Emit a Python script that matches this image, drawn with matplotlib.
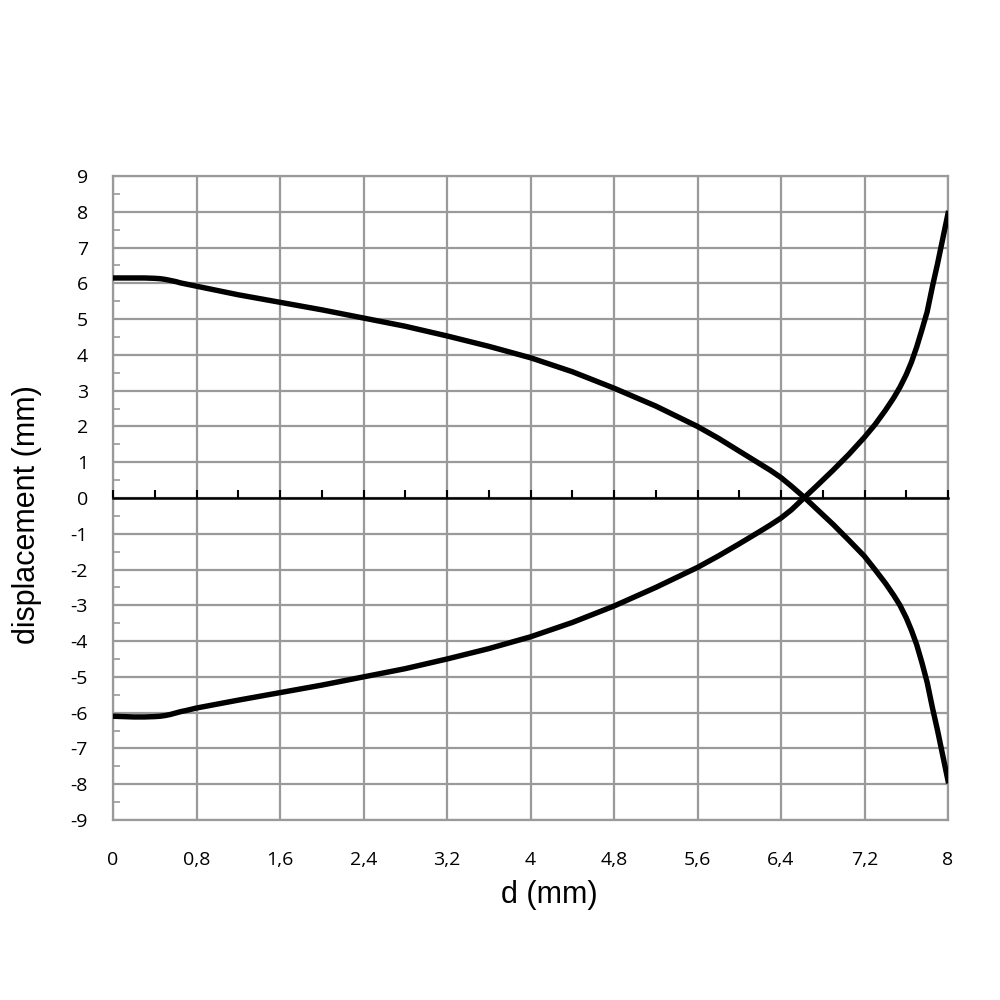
import matplotlib
matplotlib.use('Agg')
import matplotlib.pyplot as plt
from matplotlib.ticker import MultipleLocator, FuncFormatter

# values
d_mm = [0.0, 0.2, 0.3, 0.4, 0.45, 0.5, 0.55, 0.6, 0.65, 0.7, 0.8, 1.0, 1.2,
        1.6, 2.0, 2.4, 2.8, 3.2, 3.6, 4.0, 4.4, 4.8, 5.2, 5.6, 5.8, 6.0, 6.2,
        6.3, 6.4, 6.5, 6.63, 6.75, 6.9, 7.05, 7.2, 7.3, 7.4, 7.48, 7.54, 7.6,
        7.65, 7.7, 7.75, 7.8, 7.85, 7.9, 7.95, 8.0]
upper = [6.15, 6.15, 6.15, 6.14, 6.13, 6.11, 6.08, 6.05, 6.01, 5.98, 5.92,
         5.8, 5.68, 5.47, 5.26, 5.03, 4.8, 4.53, 4.24, 3.92, 3.53, 3.07, 2.57,
         2.0, 1.67, 1.31, 0.95, 0.77, 0.57, 0.33, 0.0, -0.33, -0.74, -1.18,
         -1.63, -2.0, -2.38, -2.72, -3.0, -3.35, -3.7, -4.1, -4.6, -5.15,
         -5.85, -6.5, -7.2, -7.9]
lower = [-6.1, -6.12, -6.12, -6.11, -6.1, -6.08, -6.05, -6.01, -5.97, -5.94,
         -5.87, -5.76, -5.65, -5.44, -5.23, -5.0, -4.77, -4.5, -4.21, -3.88,
         -3.48, -3.02, -2.5, -1.94, -1.62, -1.28, -0.93, -0.75, -0.56, -0.33,
         0.03, 0.36, 0.78, 1.22, 1.7, 2.05, 2.45, 2.8, 3.1, 3.45, 3.8, 4.22,
         4.7, 5.2, 5.9, 6.55, 7.25, 7.95]

x_ticks = [0, 0.8, 1.6, 2.4, 3.2, 4, 4.8, 5.6, 6.4, 7.2, 8]
y_ticks = list(range(-9, 10))

grid_col = '#9a9a9a'

fig = plt.figure(figsize=(10, 10), dpi=100)
ax = fig.add_axes([0.113, 0.18, 0.835, 0.644])

ax.plot(d_mm, upper, color='black', lw=3.9, solid_joinstyle='round', zorder=5)
ax.plot(d_mm, lower, color='black', lw=3.9, solid_joinstyle='round', zorder=5)

ax.set_xlim(0, 8)
ax.set_ylim(-9, 9)
ax.set_xticks(x_ticks)
ax.set_yticks(y_ticks)
ax.yaxis.set_minor_locator(MultipleLocator(0.5))

comma = FuncFormatter(lambda v, p: ('%g' % round(v, 2)).replace('.', ','))
ax.xaxis.set_major_formatter(comma)
ax.yaxis.set_major_formatter(FuncFormatter(lambda v, p: '%d' % v))

ax.grid(True, which='major', color=grid_col, lw=1.6)
for s in ax.spines.values():
    s.set_color(grid_col)
    s.set_linewidth(1.6)

ax.tick_params(axis='x', which='both', length=0, pad=22, labelsize=14)
ax.tick_params(axis='y', which='major', length=0, pad=18, labelsize=14)
ax.tick_params(axis='y', which='minor', length=5, direction='in',
               color=grid_col, width=1.2)
for lab in ax.get_xticklabels() + ax.get_yticklabels():
    lab.set_fontfamily('Open Sans')

# zero line with upward ticks
zero_ax = ax.secondary_xaxis(0.5)
for s in zero_ax.spines.values():
    s.set_color('black')
    s.set_linewidth(1.8)
zero_ax.set_xticks(x_ticks)
zero_ax.xaxis.set_minor_locator(MultipleLocator(0.4))
zero_ax.tick_params(axis='x', which='both', direction='out', length=6,
                    width=1.5, color='black', labelbottom=False,
                    labeltop=False)
zero_ax.set_zorder(4)

ax.set_xlabel('d (mm)', fontsize=22, family='Liberation Sans')
ax.set_ylabel('displacement (mm)', fontsize=22, family='Liberation Sans')
ax.xaxis.set_label_coords(0.523, -0.093)
ax.yaxis.set_label_coords(-0.085, 0.474)

fig.savefig('out.png', dpi=100)
